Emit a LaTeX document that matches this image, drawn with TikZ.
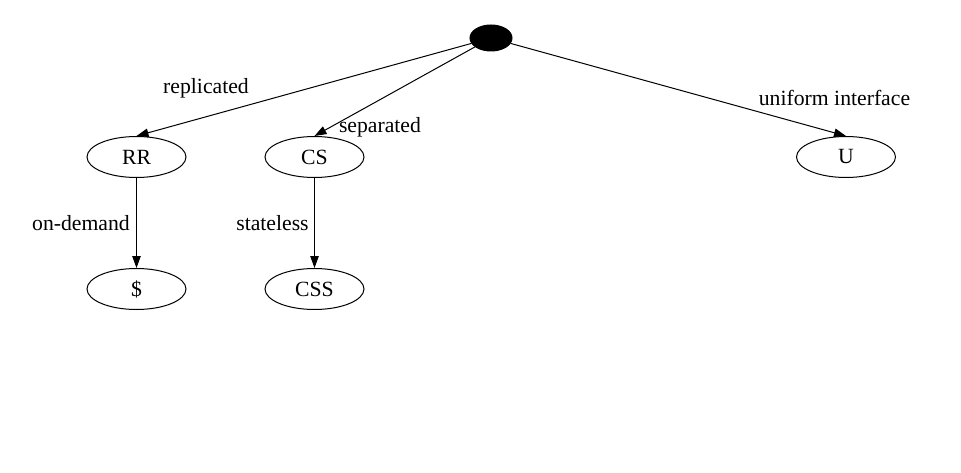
\documentclass[tikz,border=0pt]{standalone}
\usepackage{fontspec}
\setmainfont{Liberation Serif}
\usetikzlibrary{arrows.meta,shapes.geometric}

\begin{document}
\begin{tikzpicture}[x=1pt,y=-1pt,->,>={Triangle[length=12pt,width=8.5pt]},line width=1pt,
    every node/.style={font=\fontsize{21.7}{26}\selectfont}]

    \useasboundingbox (0,0) rectangle (961,473);

    \node[ellipse,
          draw,
          fill = black,
          inner sep = 0pt,
          minimum width = 42pt,
          minimum height = 26pt
          ] (root) at (491,38) {};

    \node[ellipse,
          draw,
          inner sep = 0pt,
          minimum width = 99pt,
          minimum height = 41pt
          ] (rr) at (136.5,157) {RR};

    \node[ellipse,
          draw,
          inner sep = 0pt,
          minimum width = 99pt,
          minimum height = 41pt
          ] (cs) at (314.5,157) {CS};

    \node[ellipse,
          draw,
          inner sep = 0pt,
          minimum width = 99pt,
          minimum height = 41pt
          ] (u) at (846,157) {U};

    \node[ellipse,
          draw,
          inner sep = 0pt,
          minimum width = 99pt,
          minimum height = 41pt
          ] (cache) at (136.5,289) {\$};

    \node[ellipse,
          draw,
          inner sep = 0pt,
          minimum width = 99pt,
          minimum height = 41pt
          ] (css) at (314.5,289) {CSS};

    %edge labels
    \node[anchor = base] (lrep) at (206,93.5) {replicated};
    \node[anchor = base] (lsep) at (380,132.5) {separated};
    \node[anchor = base] (luni) at (834.5,105.5) {uniform interface};
    \node[anchor = base] (ldem) at (81,230) {on-demand};
    \node[anchor = base] (lsta) at (272.5,230) {stateless};

    \path
    (root) edge [] (rr.north)
    (root) edge [] (cs.north)
    (root) edge [] (u.north)
    (rr) edge [] (cache)
    (cs) edge [] (css) ;

\end{tikzpicture}
\end{document}
